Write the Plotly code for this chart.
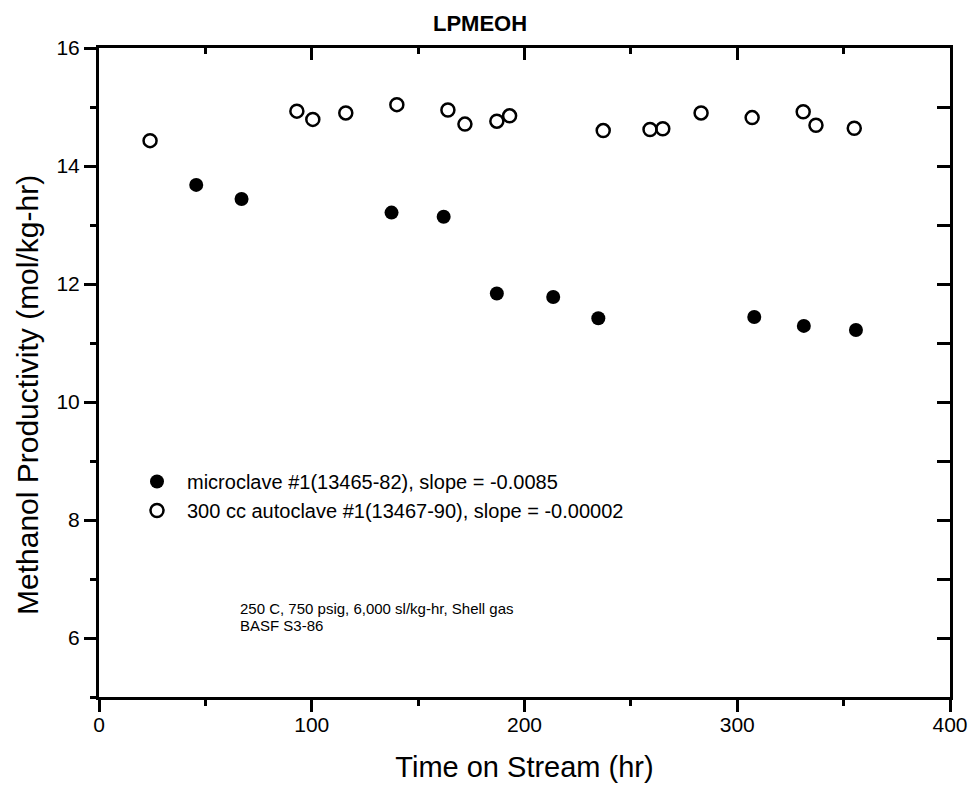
import plotly.graph_objects as go

# ---- data ----
micro_time = [45.7, 67.0, 137.5, 162.0, 187.0, 213.5, 234.7, 308.0, 331.3, 355.8]
micro_prod = [13.68, 13.44, 13.21, 13.14, 11.84, 11.78, 11.42, 11.44, 11.29, 11.22]

auto_time = [24, 93, 100.5, 116, 140, 164, 172, 187, 193, 237, 259, 265, 283, 307, 331, 337, 355]
auto_prod = [14.43, 14.93, 14.79, 14.90, 15.04, 14.95, 14.71, 14.76, 14.85,
             14.60, 14.62, 14.63, 14.90, 14.82, 14.92, 14.69, 14.64]

micro_label = "microclave #1(13465-82), slope = -0.0085"
auto_label = "300 cc autoclave #1(13467-90), slope = -0.00002"

x_ticks = [0, 100, 200, 300, 400]
x_ticktext = ["0", "100", "200", "300", "400"]
y_ticks = [6, 8, 10, 12, 14, 16]
y_ticktext = ["6", "8", "10", "12", "14", "16"]

title_text = "LPMEOH"
x_title = "Time on Stream (hr)"
y_title = "Methanol Productivity (mol/kg-hr)"
note_lines = ["250 C, 750 psig, 6,000 sl/kg-hr, Shell gas", "BASF S3-86"]

FONT = "Liberation Sans, Arial, Helvetica, sans-serif"

W, H = 971, 786
L, R, T, B = 99, 21, 48, 89
PW, PH = W - L - R, H - T - B


def px_x(p):
    return (p - L) / PW


def px_y(p):
    return (H - B - p) / PH


fig = go.Figure()
fig.add_trace(go.Scatter(
    x=micro_time, y=micro_prod, mode="markers", name=micro_label,
    marker=dict(symbol="circle", size=14, color="black"),
))
fig.add_trace(go.Scatter(
    x=auto_time, y=auto_prod, mode="markers", name=auto_label,
    marker=dict(symbol="circle-open", size=13, color="black", line=dict(width=2.5, color="black")),
))
# carrier trace so the mirrored top / right frame axes are drawn
fig.add_trace(go.Scatter(x=[None], y=[None], xaxis="x2", yaxis="y2", mode="markers",
                         showlegend=False, hoverinfo="skip"))

axis_common = dict(showgrid=False, zeroline=False, showline=True, linecolor="black",
                   linewidth=3, tickcolor="black", tickwidth=2.5, automargin=False)

fig.update_layout(
    width=W, height=H,
    margin=dict(l=L, r=R, t=T, b=B, autoexpand=False),
    paper_bgcolor="white", plot_bgcolor="white",
    font=dict(family=FONT, color="black"),
    title=dict(text="<b>" + title_text + "</b>", x=480 / W, xref="container", xanchor="center",
               y=1 - 23.5 / H, yref="container", yanchor="middle",
               font=dict(size=22, family=FONT, color="black")),
    xaxis=dict(range=[0, 400], tickmode="array", tickvals=x_ticks, ticktext=x_ticktext,
               ticks="outside", ticklen=12, tickfont=dict(size=21), ticklabelstandoff=-5,
               minor=dict(tickmode="linear", tick0=0, dtick=50, ticks="outside", ticklen=6,
                          tickwidth=2.5, tickcolor="black"),
               title=dict(text=x_title, font=dict(size=29), standoff=22),
               **axis_common),
    xaxis2=dict(range=[0, 400], overlaying="x", side="top", showticklabels=False,
                tickmode="linear", tick0=0, dtick=100, ticks="inside", ticklen=12,
                minor=dict(tickmode="linear", tick0=0, dtick=50, ticks="inside", ticklen=6,
                           tickwidth=2.5, tickcolor="black"),
                **axis_common),
    yaxis=dict(range=[5, 16], tickmode="array", tickvals=y_ticks, ticktext=y_ticktext,
               ticks="outside", ticklen=12, tickfont=dict(size=21),
               minor=dict(tickmode="linear", tick0=5, dtick=1, ticks="outside", ticklen=6,
                          tickwidth=2.5, tickcolor="black"),
               **axis_common),
    yaxis2=dict(range=[5, 16], overlaying="y", side="right", showticklabels=False,
                tickmode="linear", tick0=5, dtick=1, ticks="inside", ticklen=13,
                **axis_common),
    legend=dict(x=px_x(127), y=px_y(462), xanchor="left", yanchor="top",
                bgcolor="rgba(0,0,0,0)", itemwidth=50,
                font=dict(size=20, family=FONT, color="black"), tracegroupgap=0),
    showlegend=True,
)

# y-axis title placed as rotated text
fig.add_annotation(text=y_title, xref="paper", yref="paper", x=px_x(28), y=px_y(395),
                   xanchor="center", yanchor="middle", textangle=-90, showarrow=False,
                   font=dict(size=30, family=FONT, color="black"))

for i, line in enumerate(note_lines):
    fig.add_annotation(text=line, xref="paper", yref="paper",
                       x=px_x(238), y=px_y(608 + 17 * i),
                       xanchor="left", yanchor="middle", showarrow=False,
                       font=dict(size=15, family=FONT, color="black"))

fig.write_html("out.html")
